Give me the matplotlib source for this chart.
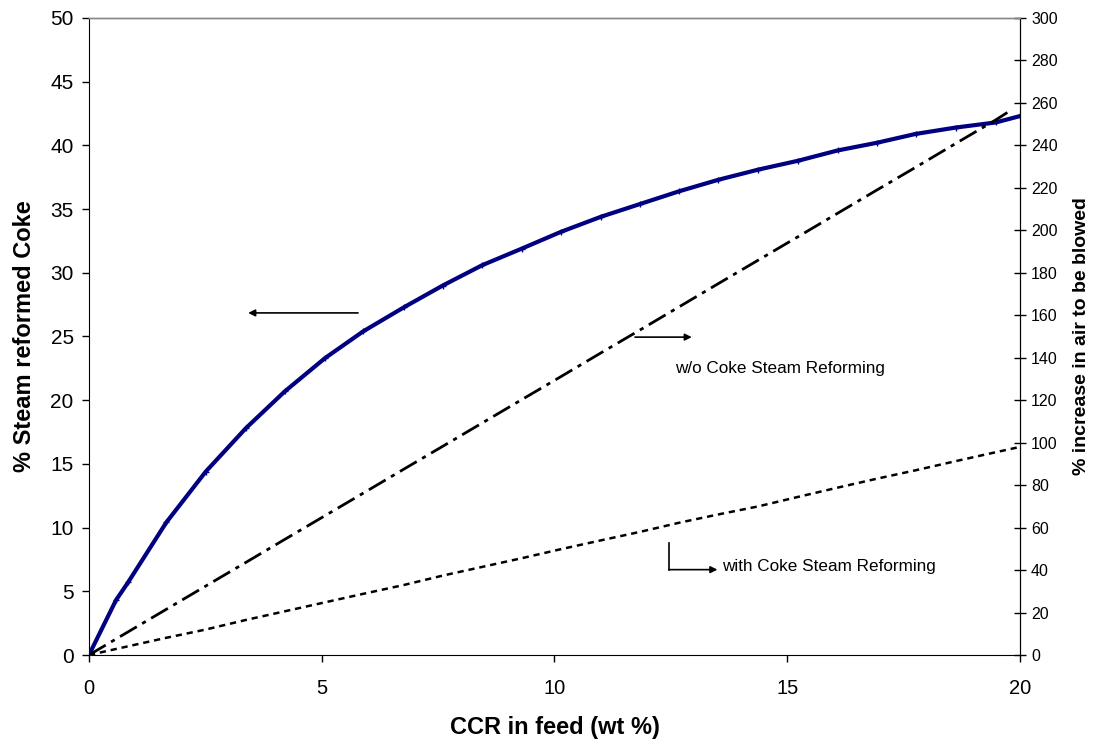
import matplotlib.pyplot as plt

plt.rcParams['font.family'] = ['Liberation Sans', 'DejaVu Sans']
plt.rcParams['lines.scale_dashes'] = False

# CCR in feed (wt %) and % steam reformed coke (left axis)
ccr = [0, 0.58, 0.84, 1.66, 2.51, 3.37, 4.21, 5.07, 5.89, 6.77, 7.6, 8.45, 9.3,
       10.13, 11.0, 11.84, 12.68, 13.52, 14.38, 15.24, 16.08, 16.92, 17.76,
       18.62, 19.48, 20.0]
reformed = [0, 4.3, 5.7, 10.4, 14.4, 17.8, 20.7, 23.3, 25.4, 27.3, 29.0, 30.6,
            31.9, 33.2, 34.4, 35.4, 36.4, 37.3, 38.1, 38.8, 39.6, 40.2, 40.9,
            41.4, 41.8, 42.3]

# % increase in air to be blowed (right axis)
ccr_air = [0, 0.84, 1.66, 2.51, 3.37, 4.21, 5.07, 5.89, 6.77, 7.6, 8.45, 9.3,
           10.13, 11.0, 11.84, 12.68, 13.52, 14.38, 15.24, 16.08, 16.92, 17.76,
           18.62, 19.48, 19.8]
air_without = [0, 10.9, 21.5, 32.5, 43.6, 54.5, 65.6, 76.2, 87.6, 98.3, 109.3,
               120.3, 131.0, 142.3, 153.1, 164.0, 174.9, 186.0, 197.1, 208.0,
               218.9, 229.7, 240.9, 252.0, 256.5]
ccr_with = [0, 0.84, 1.66, 2.51, 3.37, 4.21, 5.07, 5.89, 6.77, 7.6, 8.45, 9.3,
            10.13, 11.0, 11.84, 12.68, 13.52, 14.38, 15.24, 16.08, 16.92, 17.76,
            18.62, 19.48, 20.0]
air_with = [0, 4.1, 8.1, 12.0, 16.5, 20.6, 24.8, 28.8, 33.0, 37.4, 41.5, 45.6,
            49.8, 54.0, 58.0, 62.3, 66.2, 70.0, 74.5, 78.8, 83.0, 87.0, 91.3,
            95.5, 98.0]

fig = plt.figure(figsize=(10.97, 7.49), dpi=100)
ax = fig.add_axes([0.0811, 0.1255, 0.8487, 0.8505])
ax2 = ax.twinx()

ax.plot(ccr, reformed, color='#000080', lw=3.0, marker='+', ms=4, mew=1,
        zorder=5)
ax2.plot(ccr_air, air_without, color='black', lw=2.0,
         dashes=(14, 4.5, 3, 4.5))
ax2.plot(ccr_with, air_with, color='black', lw=1.8, dashes=(4.5, 3.5))

ax.set_xlim(0, 20)
ax.set_ylim(0, 50)
ax2.set_ylim(0, 300)
ax.set_xticks([0, 5, 10, 15, 20])
ax.set_yticks(range(0, 51, 5))
ax2.set_yticks(range(0, 301, 20))

ax.tick_params(axis='both', direction='out', length=5, width=1)
ax.tick_params(axis='x', labelsize=14.5, pad=12)
ax.tick_params(axis='y', labelsize=15, pad=6)
ax2.tick_params(axis='y', direction='inout', labelsize=11.5, length=8,
                width=1, pad=4)

for a in (ax, ax2):
    a.spines['top'].set_color('#888888')
    a.spines['top'].set_linewidth(1)
ax2.spines['left'].set_visible(False)
ax2.spines['bottom'].set_visible(False)

ax.set_xlabel('CCR in feed (wt %)', fontsize=17, fontweight='bold',
              labelpad=13)
ax.set_ylabel('% Steam reformed Coke', fontsize=17, fontweight='bold',
              labelpad=10)
ax2.set_ylabel('% increase in air to be blowed', fontsize=14,
               fontweight='bold', labelpad=11)

# arrows and labels
arrow = dict(arrowstyle='-|>', color='black', lw=1.2, mutation_scale=10,
             shrinkA=0, shrinkB=0)
ax.annotate('', xy=(3.42, 26.85), xytext=(5.78, 26.85), arrowprops=arrow)
ax.annotate('', xy=(12.95, 24.95), xytext=(11.73, 24.95), arrowprops=arrow)
ax.text(12.6, 22.5, 'w/o Coke Steam Reforming', fontsize=12.3,
        va='center', ha='left')
ax.plot([12.46, 12.46], [8.8, 6.7], color='black', lw=1.2)
ax.annotate('', xy=(13.5, 6.7), xytext=(12.46, 6.7), arrowprops=arrow)
ax.text(13.6, 6.95, 'with Coke Steam Reforming', fontsize=12.3,
        va='center', ha='left')

fig.savefig('out.png', dpi=100)
